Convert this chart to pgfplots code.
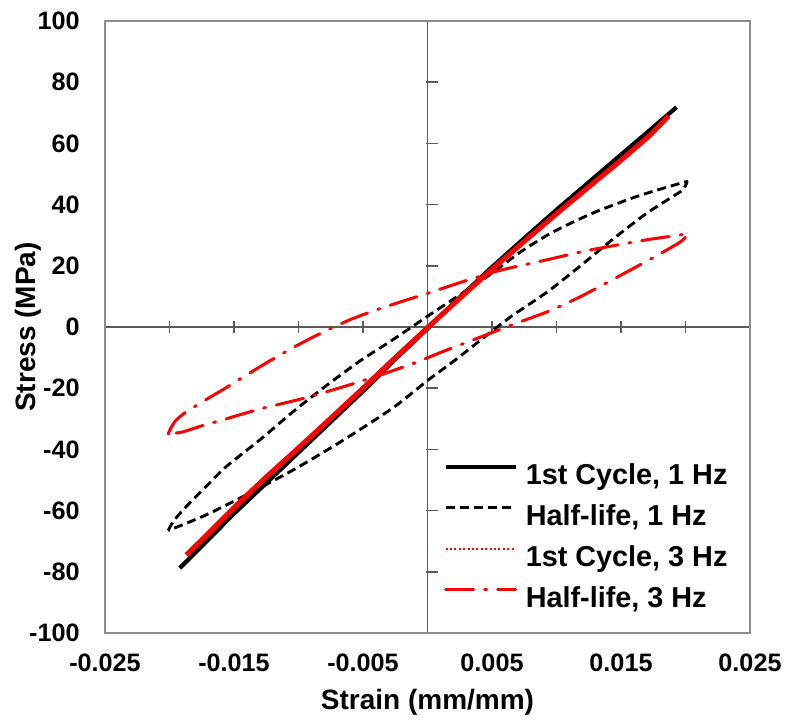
\documentclass[border=0pt]{standalone}
\usepackage{fontspec}
\setmainfont{Liberation Sans}
\usepackage{pgfplots}
\pgfplotsset{compat=1.18}
\definecolor{framegray}{HTML}{8C8C8C}
\definecolor{zerogray}{HTML}{5A5A5A}
\begin{document}
\begin{tikzpicture}
% zero lines with ticks
\begin{axis}[
  width=322.5pt, height=306pt, scale only axis,
  xmin=-0.025, xmax=0.025, ymin=-100, ymax=100,
  scaled x ticks=false, scaled y ticks=false,
  axis lines=middle, axis line style={-, zerogray, line width=0.8pt},
  xtick={-0.02,-0.015,-0.01,-0.005,0.005,0.01,0.015,0.02},
  ytick={-80,-60,-40,-20,20,40,60,80},
  xticklabels={}, yticklabels={},
  tick align=center, major tick length=6pt,
  tick style={zerogray, line width=0.8pt},
  ytick style={xshift=2pt},
]
\end{axis}
\begin{axis}[
  width=322.5pt, height=306pt, scale only axis,
  xmin=-0.025, xmax=0.025, ymin=-100, ymax=100,
  scaled x ticks=false, scaled y ticks=false,
  axis line style={framegray, line width=1pt},
  xtick={-0.025,-0.015,-0.005,0.005,0.015,0.025},
  xticklabels={-0.025,-0.015,-0.005,0.005,0.015,0.025},
  ytick={-100,-80,-60,-40,-20,0,20,40,60,80,100},
  yticklabels={-100,-80,-60,-40,-20,0,20,40,60,80,100},
  major tick length=0pt, tick style={draw=none},
  xticklabel style={anchor=center, yshift=-15pt, font=\fontsize{12.6}{15}\selectfont\bfseries},
  yticklabel style={anchor=east, inner sep=0pt, xshift=-12.5pt, font=\fontsize{12.6}{15}\selectfont\bfseries},
  xlabel={Strain (mm/mm)}, ylabel={Stress (MPa)},
  every axis x label/.style={at={(axis description cs:0.5,-0.1127)}, anchor=center, font=\fontsize{14}{16}\selectfont\bfseries},
  every axis y label/.style={at={(axis description cs:-0.1194,0.5)}, anchor=center, rotate=90, font=\fontsize{14}{16}\selectfont\bfseries},
  legend style={at={(0.515,0.2843)}, anchor=north west, draw=none, fill=none,
    font=\fontsize{14.4}{16}\selectfont\bfseries, row sep=7pt, column sep=4pt,
    nodes={inner sep=0pt, text height=10.5pt, text depth=3pt}},
  legend cell align=left,
  legend image code/.code={\draw[#1] (0pt,5pt) -- (35pt,5pt);},
]
\addplot[black, line width=2.1pt] coordinates {
(-0.0192,-78.8) (-0.017,-69.5) (-0.015,-61) (-0.0125,-51) (-0.01,-41) (-0.0075,-31) (-0.005,-21) (-0.0025,-10.5) (0,-0.5) (0.0025,9.7) (0.005,19.6) (0.0075,29) (0.01,38.3) (0.0125,47.3) (0.015,56.3) (0.0172,64.2) (0.0193,71.8)};
\addlegendentry{1st Cycle, 1 Hz}
\addplot[black, line width=1.45pt, dash pattern=on 4.5pt off 2.5pt, smooth, tension=0.4] coordinates {
(-0.0201,-66.5) (-0.0197,-63.5) (-0.019,-60) (-0.0182,-56.5) (-0.0169,-51) (-0.0156,-45.6) (-0.013,-36.9) (-0.0104,-27.6) (-0.0078,-19) (-0.0052,-11) (-0.0027,-4.2) (0,3.5) (0.0025,10.5) (0.0048,17) (0.0072,24.5) (0.0097,31) (0.0128,37.2) (0.0159,42.2) (0.018,45) (0.0193,46.6) (0.0201,47.5)
(0.0199,45.5) (0.0196,44.2) (0.017,37.2) (0.0144,28.8) (0.0118,19.8) (0.0093,11.5) (0.0066,3.8) (0.0051,-1) (0.0023,-10.3) (0,-17.5) (-0.0027,-26.5) (-0.0065,-36.9) (-0.0104,-46.7) (-0.0143,-55.4) (-0.0169,-60.9) (-0.0185,-63.8) (-0.0195,-65.5) (-0.0201,-66.5)};
\addlegendentry{Half-life, 1 Hz}
\addplot[red, line width=2.5pt,
  legend image code/.code={\draw[red, line width=1pt, dash pattern=on 1pt off 1.2pt] (0pt,5pt) -- (35pt,5pt);}] coordinates {
(-0.0187,-74.5) (-0.017,-67.5) (-0.015,-59) (-0.0125,-49) (-0.01,-39.5) (-0.0075,-29.8) (-0.005,-20) (-0.0025,-10) (0,-0.2) (0.0025,9.4) (0.005,18.9) (0.0075,28) (0.01,37) (0.0125,45.8) (0.015,54.5) (0.0172,62.5) (0.0187,69)};
\addlegendentry{1st Cycle, 3 Hz}
\addplot[red, line width=1.5pt, line cap=round, dash pattern=on 14pt off 5.5pt on 1pt off 5.5pt, smooth, tension=0.4] coordinates {
(-0.0201,-35) (-0.0199,-33) (-0.0195,-30.5) (-0.0188,-28) (-0.0176,-24.8) (-0.0156,-19.8) (-0.014,-15.6) (-0.0122,-11) (-0.0101,-6) (-0.0083,-2.1) (-0.006,2.4) (-0.0039,5.7) (-0.0021,8.2) (0,11) (0.0025,14.5) (0.0056,18.5) (0.0093,22) (0.0124,25) (0.017,28.5) (0.0195,30) (0.0202,30.6)
(0.0198,28.5) (0.0193,27) (0.0175,22.7) (0.0144,15.6) (0.0118,9.8) (0.0093,5) (0.0066,0.8) (0.0041,-3.3) (0.0015,-7.5) (-0.0011,-11.9) (-0.0039,-16) (-0.0065,-19.5) (-0.0096,-23.3) (-0.013,-26.8) (-0.0156,-30) (-0.0175,-32.3) (-0.019,-34.3) (-0.0201,-35)};
\addlegendentry{Half-life, 3 Hz}
\coordinate (sw) at (rel axis cs:0,0);
\coordinate (ne) at (rel axis cs:1,1);
\end{axis}
\pgfresetboundingbox
\path ([shift={(-52.5pt,-43pt)}]sw) rectangle ([shift={(19pt,10.5pt)}]ne);
\end{tikzpicture}
\end{document}
